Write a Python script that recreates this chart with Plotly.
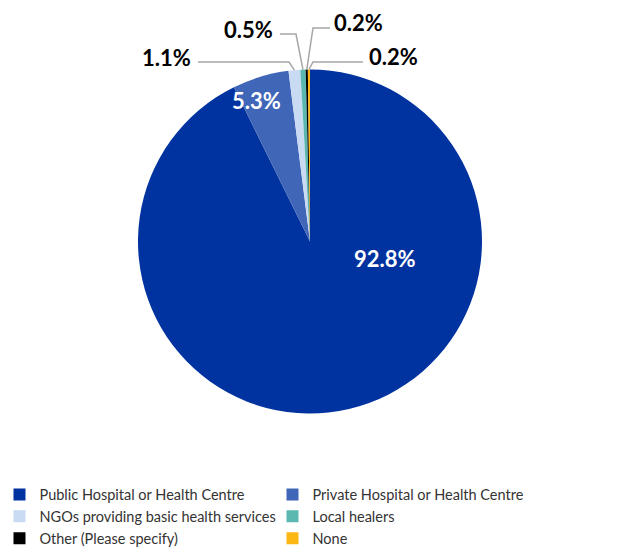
import math
import plotly.graph_objects as go

# ---- data ----
categories = [
    "Public Hospital or Health Centre",
    "Private Hospital or Health Centre",
    "NGOs providing basic health services",
    "Local healers",
    "Other (Please specify)",
    "None",
]
values = [92.8, 5.3, 1.1, 0.5, 0.2, 0.2]
colors = ["#0033A0", "#4066B8", "#C9DAF3", "#5BB8B0", "#000000", "#FDB714"]

# ---- layout config (page pixels; page body has an 8px margin) ----
OFF = 8
W, H = 610, 550
CX, CY, R = 310, 241.5, 172
FONT = "Lato"

# label placement per slice: (label center x, y), text colour, leader line
label_pos = [(385, 258), (257, 101), (166, 57), (249, 29), (359, 23), (393, 56)]
label_col = ["white", "white", "black", "black", "black", "black"]
line_start = [None, None, (198, 62), (280, 34), (330, 28), (363, 62)]
elbow = [None, None, (289, 62), (296, 34), (313, 28), (313, 62)]


def px(x):
    return (x - OFF) / W


def py(y):
    return 1 - (y - OFF) / H


fig = go.Figure(
    go.Pie(
        labels=categories,
        values=values,
        marker=dict(colors=colors, line=dict(width=0)),
        sort=False,
        direction="clockwise",
        rotation=0,
        textinfo="none",
        hoverinfo="label+value",
        domain=dict(x=[px(CX - R - 100), px(CX + R + 100)],
                    y=[py(CY + R), py(CY - R)]),
    )
)

total = sum(values)
annotations = []
shapes = []
cum = 0.0
for i, v in enumerate(values):
    mid = (cum + v / 2) / total
    cum += v
    ang = math.radians(90 - 360 * mid)
    ex, ey = CX + R * math.cos(ang), CY - R * math.sin(ang)
    lx, ly = label_pos[i]
    annotations.append(
        dict(
            x=px(lx), y=py(ly), xref="paper", yref="paper",
            text=f"<b>{v:.1f}%</b>", showarrow=False,
            font=dict(family=FONT, size=22, color=label_col[i]),
            xanchor="center", yanchor="middle",
        )
    )
    if elbow[i] is not None:
        sx, sy = line_start[i]
        bx, by = elbow[i]
        path = f"M{px(sx)},{py(sy)} L{px(bx)},{py(by)} L{px(ex)},{py(ey)}"
        shapes.append(
            dict(type="path", xref="paper", yref="paper", path=path,
                 line=dict(color="#A6A6A6", width=1.5))
        )

fig.update_layout(
    width=W, height=H,
    margin=dict(l=0, r=0, t=0, b=0, autoexpand=False),
    paper_bgcolor="white",
    plot_bgcolor="white",
    font=dict(family=FONT, size=14.5, color="#333333"),
    annotations=annotations,
    shapes=shapes,
    showlegend=True,
    legend=dict(
        orientation="h",
        x=0.4336, y=py(478.5), xanchor="center", yanchor="top",
        entrywidth=228, entrywidthmode="pixels",
        font=dict(family=FONT, size=14.5, color="#333333"),
        traceorder="normal",
    ),
)

fig.write_html("out.html")
